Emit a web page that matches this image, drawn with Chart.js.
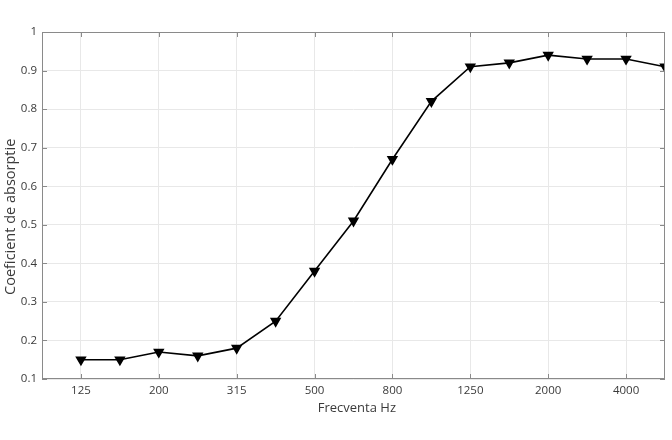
<!DOCTYPE html>
<html>
<head>
<meta charset="utf-8">
<script src="https://cdn.jsdelivr.net/npm/chart.js@4"></script>
<style>
  html, body { margin: 0; padding: 0; background: #fff; }
  #wrap { width: 672px; height: 440px; }
</style>
</head>
<body>
<div id="wrap"><canvas id="chart"></canvas></div>
<script>
// Data
const frequencies = ['125', '160', '200', '250', '315', '400', '500', '630', '800', '1000', '1250', '1600', '2000', '3150', '4000', '5000'];
const absorption = [0.15, 0.15, 0.17, 0.16, 0.18, 0.25, 0.38, 0.51, 0.67, 0.82, 0.91, 0.92, 0.94, 0.93, 0.93, 0.91];
const xTickIndexes = [0, 2, 4, 6, 8, 10, 12, 14];
const yTicks = [0.1, 0.2, 0.3, 0.4, 0.5, 0.6, 0.7, 0.8, 0.9, 1];

const textColor = '#3a3a3a';
const gridColor = '#e8e8e8';
const boxColor = '#8a8a8a';
const tickFont = { family: 'Open Sans', size: 11.5 };

// MATLAB-like box with inward tick marks
const boxPlugin = {
    id: 'box',
    afterDraw(chart) {
        const { ctx, chartArea: a, scales } = chart;
        ctx.save();
        ctx.strokeStyle = boxColor;
        ctx.lineWidth = 1;
        ctx.strokeRect(a.left + 0.5, a.top + 0.5, a.right - a.left - 1, a.bottom - a.top - 1);
        ctx.beginPath();
        scales.x.ticks.forEach(t => {
            const px = Math.round(scales.x.getPixelForValue(t.value)) + 0.5;
            ctx.moveTo(px, a.bottom); ctx.lineTo(px, a.bottom - 5);
            ctx.moveTo(px, a.top); ctx.lineTo(px, a.top + 5);
        });
        scales.y.ticks.forEach(t => {
            const py = Math.round(scales.y.getPixelForValue(t.value)) + 0.5;
            ctx.moveTo(a.left, py); ctx.lineTo(a.left + 5, py);
            ctx.moveTo(a.right, py); ctx.lineTo(a.right - 5, py);
        });
        ctx.stroke();
        ctx.restore();
    }
};

new Chart(document.getElementById('chart'), {
    type: 'line',
    data: {
        datasets: [{
            data: absorption.map((v, i) => ({ x: i, y: v })),
            borderColor: '#000',
            backgroundColor: '#000',
            borderWidth: 1.6,
            pointStyle: 'triangle',
            rotation: 180,
            pointRadius: 5,
            pointHoverRadius: 5,
            tension: 0
        }]
    },
    plugins: [boxPlugin],
    options: {
        responsive: true,
        maintainAspectRatio: false,
        animation: false,
        events: [],
        layout: { padding: { left: 0, right: 7, top: 32, bottom: 21 } },
        plugins: { legend: { display: false }, tooltip: { enabled: false } },
        scales: {
            x: {
                type: 'linear',
                min: -1,
                max: 15,
                afterBuildTicks: s => { s.ticks = xTickIndexes.map(v => ({ value: v })); },
                afterFit: s => { s.height = 40; },
                grid: { color: gridColor, drawTicks: false },
                border: { display: false },
                ticks: {
                    padding: 5,
                    color: textColor,
                    font: tickFont,
                    maxRotation: 0,
                    autoSkip: false,
                    callback: v => frequencies[v]
                },
                // leading spaces nudge the title a little right, as in the reference
                title: { display: true, text: '  Frecventa Hz', color: textColor, font: { family: 'Open Sans', size: 13 }, padding: { top: 4, bottom: 3 } }
            },
            y: {
                min: 0.1,
                max: 1,
                afterBuildTicks: s => { s.ticks = yTicks.map(v => ({ value: v })); },
                afterFit: s => { s.width = 42; },
                grid: { color: gridColor, drawTicks: false },
                border: { display: false },
                ticks: {
                    padding: 5,
                    color: textColor,
                    font: tickFont,
                    callback: v => String(Math.round(v * 10) / 10)
                },
                // trailing spaces push the rotated title down, as in the reference
                title: { display: true, text: 'Coeficient de absorptie      ', color: textColor, font: { family: 'Open Sans', size: 14.5 }, padding: { top: 2, bottom: 4 } }
            }
        }
    }
});
</script>
</body>
</html>
